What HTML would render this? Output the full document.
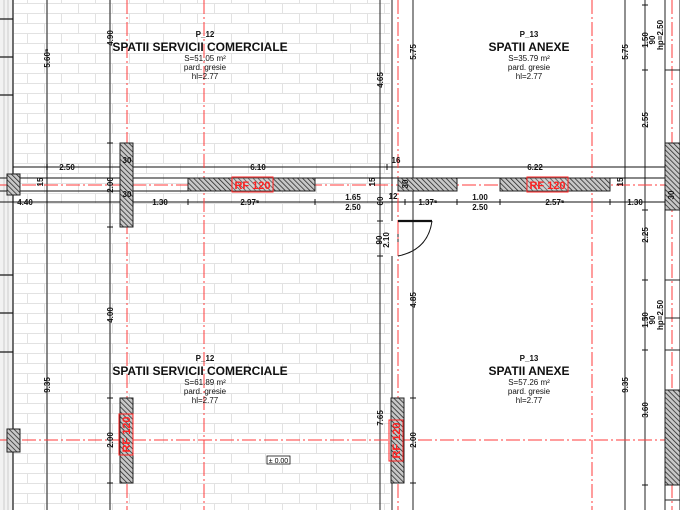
<!DOCTYPE html>
<html><head><meta charset="utf-8"><style>html,body{margin:0;padding:0;background:#fff}svg{display:block}</style></head><body>
<svg width="680" height="510" viewBox="0 0 680 510" xmlns="http://www.w3.org/2000/svg" font-family="Liberation Sans, Arial, sans-serif">
<defs>
<pattern id="brick" x="0" y="3" width="34" height="20" patternUnits="userSpaceOnUse">
<path d="M0 0.5H34M0 10.5H34M10.5 0V10M27.5 10V20" stroke="#e2e2e2" stroke-width="1" fill="none"/>
</pattern>
<pattern id="hatch" width="3.5" height="3.5" patternUnits="userSpaceOnUse" patternTransform="rotate(-45)">
<rect width="3.5" height="3.5" fill="#c8c8c8"/><line x1="0" y1="0" x2="0" y2="3.5" stroke="#222" stroke-width="1.5"/>
</pattern>
</defs>
<rect x="0" y="0" width="680" height="510" fill="#fff"/>
<rect x="14" y="0" width="376" height="510" fill="url(#brick)"/>
<rect x="0" y="0" width="13" height="510" fill="#f2f2f2"/>
<line x1="4" y1="0" x2="4" y2="510" stroke="#ccc"/><line x1="8" y1="0" x2="8" y2="510" stroke="#ccc"/>
<g stroke="#111" stroke-width="1.2">
<line x1="13" y1="0" x2="13" y2="510"/>
<line x1="0" y1="19" x2="13" y2="19"/><line x1="0" y1="57" x2="13" y2="57"/><line x1="0" y1="95" x2="13" y2="95"/>
<line x1="0" y1="275" x2="13" y2="275"/><line x1="0" y1="313" x2="13" y2="313"/><line x1="0" y1="352" x2="13" y2="352"/>
</g>
<g stroke="#555" stroke-width="1.4">
<line x1="47" y1="0" x2="47" y2="510"/><line x1="110" y1="0" x2="110" y2="510"/>
</g>
<g stroke="#222" stroke-width="1">
<line x1="380" y1="0" x2="380" y2="510"/><line x1="392" y1="0" x2="392" y2="221"/><line x1="392" y1="256" x2="392" y2="510"/>
<line x1="413" y1="0" x2="413" y2="510"/><line x1="625" y1="0" x2="625" y2="510"/><line x1="645" y1="0" x2="645" y2="510"/>
<line x1="665" y1="0" x2="665" y2="510"/><line x1="680" y1="0" x2="680" y2="510"/>
<line x1="398" y1="221" x2="398" y2="256"/>
</g>
<g stroke="#111" stroke-width="1.1">
<line x1="13" y1="167" x2="665" y2="167"/>
<line x1="0" y1="178" x2="665" y2="178"/><line x1="0" y1="191" x2="188" y2="191"/>
<line x1="0" y1="202" x2="665" y2="202"/>
</g>
<g stroke="#ff3b3b" stroke-width="1" stroke-dasharray="14,3,2,3" fill="none">
<line x1="127" y1="0" x2="127" y2="510"/><line x1="204" y1="0" x2="204" y2="510"/>
<line x1="398" y1="0" x2="398" y2="510"/><line x1="592" y1="0" x2="592" y2="510"/><line x1="672" y1="0" x2="672" y2="510"/>
<line x1="0" y1="185" x2="680" y2="185"/><line x1="0" y1="440" x2="680" y2="440"/>
</g>
<g fill="url(#hatch)" stroke="#222" stroke-width="1">
<rect x="7" y="174" width="13" height="21"/><rect x="7" y="429" width="13" height="23"/>
<rect x="120" y="143" width="13" height="84"/><rect x="120" y="398" width="13" height="85"/>
<rect x="188" y="178" width="127" height="13"/>
<rect x="398" y="178" width="59" height="13"/><rect x="500" y="178" width="110" height="13"/>
<rect x="391" y="398" width="13" height="85"/>
<rect x="665" y="143" width="15" height="67"/><rect x="665" y="390" width="15" height="95"/>
</g>
<g stroke="#222" stroke-width="1">
<line x1="665" y1="70" x2="680" y2="70"/><line x1="665" y1="280" x2="680" y2="280"/><line x1="665" y1="318" x2="680" y2="318"/>
<line x1="665" y1="350" x2="680" y2="350"/><line x1="665" y1="500" x2="680" y2="500"/>
</g>
<path d="M398 221H432" stroke="#111" stroke-width="2.2"/>
<path d="M432 221 Q428 250 398 256" stroke="#111" fill="none" stroke-width="1"/>
<g stroke="#111" stroke-width="1">
<path d="M13 164v6M47 164v6M387 164v6M665 164v6"/>
<path d="M133 199v6M188 199v6M315 199v6M405 199v6M457 199v6M500 199v6M610 199v6M665 199v6"/>
<path d="M107 143h6M107 227h6M107 398h6M107 483h6M410 398h6M410 483h6M642 5h6M642 70h6M642 210h6M642 280h6M642 318h6M642 350h6M642 485h6M377 221h6M377 256h6"/>
</g>
<g font-weight="bold" fill="#ff2020" font-size="11">
<rect x="232" y="177" width="41" height="15" fill="#fff" fill-opacity="0.2" stroke="#ff2020"/>
<text x="252.5" y="189" text-anchor="middle">RF 120</text>
<rect x="527" y="177" width="41" height="15" fill="#fff" fill-opacity="0.2" stroke="#ff2020"/>
<text x="547.5" y="189" text-anchor="middle">RF 120</text>
<rect x="119" y="414" width="14" height="41" fill="none" stroke="#ff2020"/>
<text transform="translate(130,434.5) rotate(-90)" text-anchor="middle">RF 120</text>
<rect x="389" y="420" width="14" height="41" fill="none" stroke="#ff2020"/>
<text transform="translate(400,440.5) rotate(-90)" text-anchor="middle">RF 120</text>
</g>
<g text-anchor="middle" fill="#111" font-weight="bold">
<text x="205" y="37" font-size="8">P_12</text>
<text x="200" y="51" font-size="12">SPATII SERVICII COMERCIALE</text>
<text x="205" y="61" font-size="8" font-weight="normal">S=51.05 m²</text>
<text x="205" y="70" font-size="8" font-weight="normal">pard. gresie</text>
<text x="205" y="79" font-size="8" font-weight="normal">hl=2.77</text>
<text x="529" y="37" font-size="8">P_13</text>
<text x="529" y="51" font-size="12">SPATII ANEXE</text>
<text x="529" y="61" font-size="8" font-weight="normal">S=35.79 m²</text>
<text x="529" y="70" font-size="8" font-weight="normal">pard. gresie</text>
<text x="529" y="79" font-size="8" font-weight="normal">hl=2.77</text>
<text x="205" y="361" font-size="8">P_12</text>
<text x="200" y="375" font-size="12">SPATII SERVICII COMERCIALE</text>
<text x="205" y="385" font-size="8" font-weight="normal">S=61.89 m²</text>
<text x="205" y="394" font-size="8" font-weight="normal">pard. gresie</text>
<text x="205" y="403" font-size="8" font-weight="normal">hl=2.77</text>
<text x="529" y="361" font-size="8">P_13</text>
<text x="529" y="375" font-size="12">SPATII ANEXE</text>
<text x="529" y="385" font-size="8" font-weight="normal">S=57.26 m²</text>
<text x="529" y="394" font-size="8" font-weight="normal">pard. gresie</text>
<text x="529" y="403" font-size="8" font-weight="normal">hl=2.77</text>
</g>
<rect x="267" y="456" width="23" height="8" fill="#fff" stroke="#111" stroke-width="0.8"/>
<text x="278.5" y="463" font-size="7" text-anchor="middle">± 0.00</text>
<g font-size="8" text-anchor="middle" fill="#111" font-weight="bold">
<text x="67" y="170">2.50</text><text x="258" y="170">6.10</text><text x="535" y="170">6.22</text>
<text x="25" y="205">4.40</text><text x="160" y="205">1.30</text><text x="250" y="205">2.97⁵</text>
<text x="353" y="200">1.65</text><text x="353" y="210">2.50</text>
<text x="428" y="205">1.37⁵</text><text x="480" y="200">1.00</text><text x="480" y="210">2.50</text>
<text x="555" y="205">2.57⁵</text><text x="635" y="205">1.30</text>
<text x="127" y="163">30</text><text x="127" y="197">30</text><text x="396" y="163">16</text><text x="393" y="199">12</text>
</g>
<g font-size="8" text-anchor="middle" fill="#111" font-weight="bold">
<text transform="translate(50,58) rotate(-90)">5.60⁵</text>
<text transform="translate(113,38) rotate(-90)">4.90</text>
<text transform="translate(383,80) rotate(-90)">4.65</text>
<text transform="translate(416,52) rotate(-90)">5.75</text>
<text transform="translate(628,52) rotate(-90)">5.75</text>
<text transform="translate(648,40) rotate(-90)">1.50</text>
<text transform="translate(655,40) rotate(-90)">90</text>
<text transform="translate(663,35) rotate(-90)">hp=2.50</text>
<text transform="translate(648,120) rotate(-90)">2.55</text>
<text transform="translate(648,235) rotate(-90)">2.25</text>
<text transform="translate(648,320) rotate(-90)">1.50</text>
<text transform="translate(655,320) rotate(-90)">90</text>
<text transform="translate(663,315) rotate(-90)">hp=2.50</text>
<text transform="translate(648,410) rotate(-90)">3.60</text>
<text transform="translate(628,385) rotate(-90)">9.35</text>
<text transform="translate(50,385) rotate(-90)">9.35</text>
<text transform="translate(113,315) rotate(-90)">4.00</text>
<text transform="translate(113,440) rotate(-90)">2.00</text>
<text transform="translate(113,185) rotate(-90)">2.00</text>
<text transform="translate(383,418) rotate(-90)">7.65</text>
<text transform="translate(416,440) rotate(-90)">2.00</text>
<text transform="translate(416,300) rotate(-90)">4.85</text>
<text transform="translate(382,240) rotate(-90)">90</text>
<text transform="translate(389,240) rotate(-90)">2.10</text>
<text transform="translate(383,201) rotate(-90)">60</text>
<text transform="translate(43,182) rotate(-90)">15</text>
<text transform="translate(375,182) rotate(-90)">15</text>
<text transform="translate(623,182) rotate(-90)">15</text>
<text transform="translate(408,184) rotate(-90)">30</text>
<text transform="translate(674,195) rotate(-90)">30</text>
</g>
</svg>
</body></html>
